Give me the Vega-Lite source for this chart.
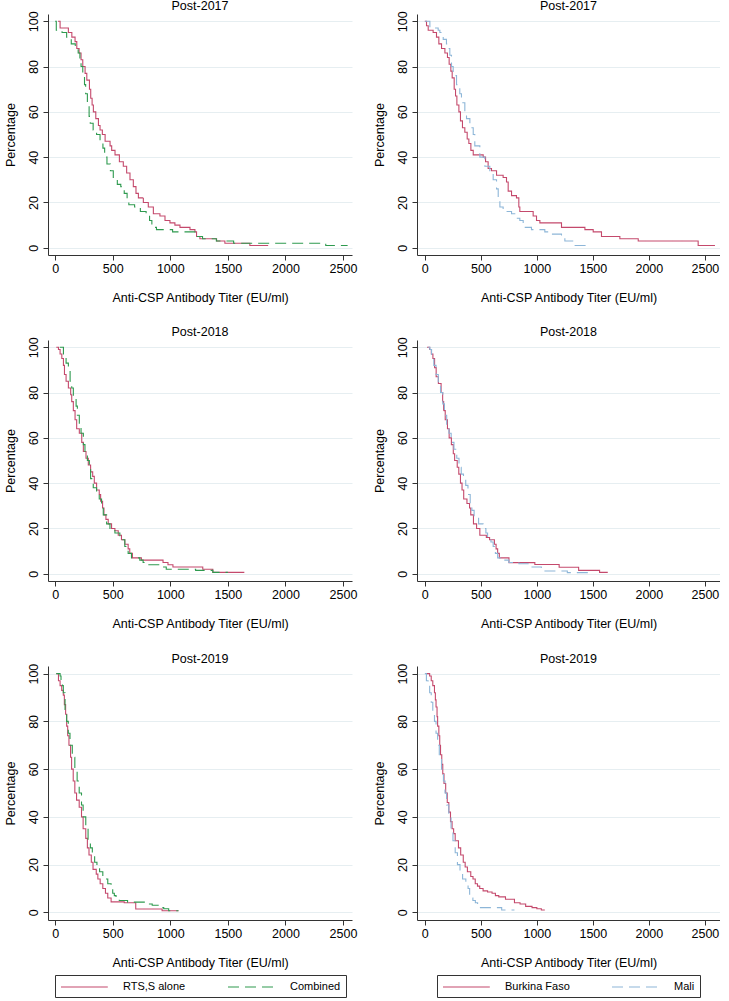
{
  "$schema": "https://vega.github.io/schema/vega-lite/v6.json",
  "padding": {"left": 4, "top": 0, "right": 0, "bottom": 0},
  "config": {
    "font": "Liberation Sans",
    "view": {"stroke": null},
    "axis": {"labelFontSize": 12.5, "titleFontSize": 12.5, "titleFontWeight": "normal", "labelColor": "#000", "titleColor": "#000", "domainColor": "#333", "tickColor": "#333", "tickSize": 5, "domainWidth": 1, "tickWidth": 1},
    "axisX": {"grid": false, "labelPadding": 2, "titlePadding": 17, "format": "d", "values": [0, 500, 1000, 1500, 2000, 2500]},
    "axisY": {"grid": true, "gridColor": "#e6eef1", "gridWidth": 1, "labelAngle": -90, "labelAlign": "center", "labelBaseline": "bottom", "labelPadding": 3, "titlePadding": 10, "values": [0, 20, 40, 60, 80, 100]},
    "title": {"fontSize": 12.5, "fontWeight": "normal", "offset": -2, "color": "#000", "anchor": "middle"},
    "line": {"interpolate": "step-after", "strokeWidth": 1.1},
    "legend": {"symbolType": "M-1,0H6.8", "symbolSize": 144, "symbolStrokeWidth": 1.2, "labelFontSize": 11, "labelColor": "#000", "strokeColor": "#333", "padding": 5, "columnPadding": 39, "labelOffset": 49, "offset": 6, "layout": {"bottom": {"anchor": "middle"}}}
  },
  "datasets": {
    "L17": [
      {"group": "RTS,S alone", "titer": 25, "pct": 100}, {"group": "RTS,S alone", "titer": 43, "pct": 97}, {"group": "RTS,S alone", "titer": 115, "pct": 95}, {"group": "RTS,S alone", "titer": 145, "pct": 93}, {"group": "RTS,S alone", "titer": 173, "pct": 91}, {"group": "RTS,S alone", "titer": 188, "pct": 88}, {"group": "RTS,S alone", "titer": 208, "pct": 86}, {"group": "RTS,S alone", "titer": 225, "pct": 83}, {"group": "RTS,S alone", "titer": 240, "pct": 80}, {"group": "RTS,S alone", "titer": 260, "pct": 77}, {"group": "RTS,S alone", "titer": 275, "pct": 74}, {"group": "RTS,S alone", "titer": 298, "pct": 70}, {"group": "RTS,S alone", "titer": 309, "pct": 66}, {"group": "RTS,S alone", "titer": 321, "pct": 63}, {"group": "RTS,S alone", "titer": 332, "pct": 60}, {"group": "RTS,S alone", "titer": 353, "pct": 57}, {"group": "RTS,S alone", "titer": 376, "pct": 54}, {"group": "RTS,S alone", "titer": 390, "pct": 52}, {"group": "RTS,S alone", "titer": 410, "pct": 50}, {"group": "RTS,S alone", "titer": 434, "pct": 47}, {"group": "RTS,S alone", "titer": 477, "pct": 45}, {"group": "RTS,S alone", "titer": 491, "pct": 43}, {"group": "RTS,S alone", "titer": 520, "pct": 41}, {"group": "RTS,S alone", "titer": 558, "pct": 38}, {"group": "RTS,S alone", "titer": 592, "pct": 36}, {"group": "RTS,S alone", "titer": 621, "pct": 33}, {"group": "RTS,S alone", "titer": 650, "pct": 30}, {"group": "RTS,S alone", "titer": 679, "pct": 27}, {"group": "RTS,S alone", "titer": 702, "pct": 24}, {"group": "RTS,S alone", "titer": 723, "pct": 22}, {"group": "RTS,S alone", "titer": 766, "pct": 20}, {"group": "RTS,S alone", "titer": 809, "pct": 18}, {"group": "RTS,S alone", "titer": 853, "pct": 15}, {"group": "RTS,S alone", "titer": 910, "pct": 14}, {"group": "RTS,S alone", "titer": 954, "pct": 12}, {"group": "RTS,S alone", "titer": 997, "pct": 11}, {"group": "RTS,S alone", "titer": 1040, "pct": 10}, {"group": "RTS,S alone", "titer": 1084, "pct": 9}, {"group": "RTS,S alone", "titer": 1171, "pct": 8}, {"group": "RTS,S alone", "titer": 1214, "pct": 7}, {"group": "RTS,S alone", "titer": 1228, "pct": 5}, {"group": "RTS,S alone", "titer": 1257, "pct": 4}, {"group": "RTS,S alone", "titer": 1402, "pct": 3}, {"group": "RTS,S alone", "titer": 1474, "pct": 2}, {"group": "RTS,S alone", "titer": 1691, "pct": 1}, {"group": "RTS,S alone", "titer": 1850, "pct": 1},
      {"group": "Combined", "titer": 0, "pct": 100}, {"group": "Combined", "titer": 10, "pct": 96}, {"group": "Combined", "titer": 60, "pct": 95}, {"group": "Combined", "titer": 100, "pct": 93}, {"group": "Combined", "titer": 140, "pct": 90}, {"group": "Combined", "titer": 175, "pct": 88}, {"group": "Combined", "titer": 200, "pct": 86}, {"group": "Combined", "titer": 215, "pct": 83}, {"group": "Combined", "titer": 225, "pct": 80}, {"group": "Combined", "titer": 240, "pct": 76}, {"group": "Combined", "titer": 255, "pct": 72}, {"group": "Combined", "titer": 265, "pct": 68}, {"group": "Combined", "titer": 280, "pct": 63}, {"group": "Combined", "titer": 295, "pct": 58}, {"group": "Combined", "titer": 305, "pct": 55}, {"group": "Combined", "titer": 330, "pct": 52}, {"group": "Combined", "titer": 360, "pct": 50}, {"group": "Combined", "titer": 390, "pct": 47}, {"group": "Combined", "titer": 415, "pct": 44}, {"group": "Combined", "titer": 430, "pct": 40}, {"group": "Combined", "titer": 450, "pct": 37}, {"group": "Combined", "titer": 480, "pct": 34}, {"group": "Combined", "titer": 505, "pct": 30}, {"group": "Combined", "titer": 540, "pct": 28}, {"group": "Combined", "titer": 570, "pct": 27}, {"group": "Combined", "titer": 600, "pct": 24}, {"group": "Combined", "titer": 625, "pct": 21}, {"group": "Combined", "titer": 640, "pct": 19}, {"group": "Combined", "titer": 690, "pct": 18}, {"group": "Combined", "titer": 740, "pct": 16}, {"group": "Combined", "titer": 790, "pct": 15}, {"group": "Combined", "titer": 820, "pct": 12}, {"group": "Combined", "titer": 840, "pct": 10}, {"group": "Combined", "titer": 855, "pct": 9}, {"group": "Combined", "titer": 880, "pct": 8}, {"group": "Combined", "titer": 1020, "pct": 7}, {"group": "Combined", "titer": 1230, "pct": 5}, {"group": "Combined", "titer": 1280, "pct": 4}, {"group": "Combined", "titer": 1400, "pct": 3}, {"group": "Combined", "titer": 1550, "pct": 2}, {"group": "Combined", "titer": 2350, "pct": 1}, {"group": "Combined", "titer": 2540, "pct": 1}
    ],
    "R17": [
      {"group": "Burkina Faso", "titer": 0, "pct": 100}, {"group": "Burkina Faso", "titer": 15, "pct": 98}, {"group": "Burkina Faso", "titer": 30, "pct": 96}, {"group": "Burkina Faso", "titer": 74, "pct": 95}, {"group": "Burkina Faso", "titer": 104, "pct": 93}, {"group": "Burkina Faso", "titer": 125, "pct": 90}, {"group": "Burkina Faso", "titer": 149, "pct": 88}, {"group": "Burkina Faso", "titer": 179, "pct": 86}, {"group": "Burkina Faso", "titer": 202, "pct": 84}, {"group": "Burkina Faso", "titer": 217, "pct": 81}, {"group": "Burkina Faso", "titer": 232, "pct": 78}, {"group": "Burkina Faso", "titer": 244, "pct": 75}, {"group": "Burkina Faso", "titer": 262, "pct": 70}, {"group": "Burkina Faso", "titer": 274, "pct": 67}, {"group": "Burkina Faso", "titer": 286, "pct": 63}, {"group": "Burkina Faso", "titer": 304, "pct": 60}, {"group": "Burkina Faso", "titer": 318, "pct": 56}, {"group": "Burkina Faso", "titer": 336, "pct": 53}, {"group": "Burkina Faso", "titer": 357, "pct": 51}, {"group": "Burkina Faso", "titer": 378, "pct": 48}, {"group": "Burkina Faso", "titer": 393, "pct": 46}, {"group": "Burkina Faso", "titer": 411, "pct": 43}, {"group": "Burkina Faso", "titer": 432, "pct": 41}, {"group": "Burkina Faso", "titer": 521, "pct": 40}, {"group": "Burkina Faso", "titer": 542, "pct": 38}, {"group": "Burkina Faso", "titer": 565, "pct": 35}, {"group": "Burkina Faso", "titer": 595, "pct": 34}, {"group": "Burkina Faso", "titer": 640, "pct": 32}, {"group": "Burkina Faso", "titer": 699, "pct": 31}, {"group": "Burkina Faso", "titer": 729, "pct": 29}, {"group": "Burkina Faso", "titer": 744, "pct": 25}, {"group": "Burkina Faso", "titer": 774, "pct": 23}, {"group": "Burkina Faso", "titer": 818, "pct": 22}, {"group": "Burkina Faso", "titer": 839, "pct": 18}, {"group": "Burkina Faso", "titer": 848, "pct": 16}, {"group": "Burkina Faso", "titer": 967, "pct": 14}, {"group": "Burkina Faso", "titer": 997, "pct": 12}, {"group": "Burkina Faso", "titer": 1027, "pct": 11}, {"group": "Burkina Faso", "titer": 1220, "pct": 9}, {"group": "Burkina Faso", "titer": 1429, "pct": 8}, {"group": "Burkina Faso", "titer": 1503, "pct": 7}, {"group": "Burkina Faso", "titer": 1577, "pct": 5}, {"group": "Burkina Faso", "titer": 1741, "pct": 4}, {"group": "Burkina Faso", "titer": 1905, "pct": 3}, {"group": "Burkina Faso", "titer": 2440, "pct": 1}, {"group": "Burkina Faso", "titer": 2590, "pct": 1},
      {"group": "Mali", "titer": 0, "pct": 100}, {"group": "Mali", "titer": 45, "pct": 97}, {"group": "Mali", "titer": 119, "pct": 96}, {"group": "Mali", "titer": 134, "pct": 95}, {"group": "Mali", "titer": 164, "pct": 92}, {"group": "Mali", "titer": 193, "pct": 90}, {"group": "Mali", "titer": 208, "pct": 88}, {"group": "Mali", "titer": 223, "pct": 85}, {"group": "Mali", "titer": 238, "pct": 80}, {"group": "Mali", "titer": 253, "pct": 76}, {"group": "Mali", "titer": 283, "pct": 72}, {"group": "Mali", "titer": 312, "pct": 68}, {"group": "Mali", "titer": 327, "pct": 64}, {"group": "Mali", "titer": 357, "pct": 60}, {"group": "Mali", "titer": 372, "pct": 57}, {"group": "Mali", "titer": 402, "pct": 53}, {"group": "Mali", "titer": 432, "pct": 50}, {"group": "Mali", "titer": 446, "pct": 45}, {"group": "Mali", "titer": 491, "pct": 40}, {"group": "Mali", "titer": 536, "pct": 36}, {"group": "Mali", "titer": 580, "pct": 33}, {"group": "Mali", "titer": 610, "pct": 30}, {"group": "Mali", "titer": 640, "pct": 26}, {"group": "Mali", "titer": 655, "pct": 22}, {"group": "Mali", "titer": 670, "pct": 18}, {"group": "Mali", "titer": 699, "pct": 16}, {"group": "Mali", "titer": 774, "pct": 15}, {"group": "Mali", "titer": 818, "pct": 13}, {"group": "Mali", "titer": 848, "pct": 12}, {"group": "Mali", "titer": 878, "pct": 9}, {"group": "Mali", "titer": 952, "pct": 8}, {"group": "Mali", "titer": 1071, "pct": 7}, {"group": "Mali", "titer": 1131, "pct": 6}, {"group": "Mali", "titer": 1220, "pct": 5}, {"group": "Mali", "titer": 1250, "pct": 3}, {"group": "Mali", "titer": 1320, "pct": 1}, {"group": "Mali", "titer": 1460, "pct": 1}
    ],
    "L18": [
      {"group": "RTS,S alone", "titer": 10, "pct": 100}, {"group": "RTS,S alone", "titer": 29, "pct": 99}, {"group": "RTS,S alone", "titer": 43, "pct": 97}, {"group": "RTS,S alone", "titer": 58, "pct": 95}, {"group": "RTS,S alone", "titer": 72, "pct": 92}, {"group": "RTS,S alone", "titer": 81, "pct": 88}, {"group": "RTS,S alone", "titer": 95, "pct": 85}, {"group": "RTS,S alone", "titer": 115, "pct": 82}, {"group": "RTS,S alone", "titer": 135, "pct": 79}, {"group": "RTS,S alone", "titer": 144, "pct": 76}, {"group": "RTS,S alone", "titer": 158, "pct": 72}, {"group": "RTS,S alone", "titer": 173, "pct": 68}, {"group": "RTS,S alone", "titer": 187, "pct": 64}, {"group": "RTS,S alone", "titer": 210, "pct": 62}, {"group": "RTS,S alone", "titer": 231, "pct": 58}, {"group": "RTS,S alone", "titer": 245, "pct": 54}, {"group": "RTS,S alone", "titer": 268, "pct": 51}, {"group": "RTS,S alone", "titer": 288, "pct": 48}, {"group": "RTS,S alone", "titer": 308, "pct": 45}, {"group": "RTS,S alone", "titer": 326, "pct": 43}, {"group": "RTS,S alone", "titer": 340, "pct": 40}, {"group": "RTS,S alone", "titer": 360, "pct": 37}, {"group": "RTS,S alone", "titer": 383, "pct": 35}, {"group": "RTS,S alone", "titer": 395, "pct": 32}, {"group": "RTS,S alone", "titer": 412, "pct": 29}, {"group": "RTS,S alone", "titer": 424, "pct": 26}, {"group": "RTS,S alone", "titer": 441, "pct": 24}, {"group": "RTS,S alone", "titer": 461, "pct": 22}, {"group": "RTS,S alone", "titer": 490, "pct": 20}, {"group": "RTS,S alone", "titer": 519, "pct": 19}, {"group": "RTS,S alone", "titer": 548, "pct": 17}, {"group": "RTS,S alone", "titer": 576, "pct": 15}, {"group": "RTS,S alone", "titer": 605, "pct": 13}, {"group": "RTS,S alone", "titer": 634, "pct": 11}, {"group": "RTS,S alone", "titer": 648, "pct": 9}, {"group": "RTS,S alone", "titer": 671, "pct": 7}, {"group": "RTS,S alone", "titer": 749, "pct": 6}, {"group": "RTS,S alone", "titer": 937, "pct": 5}, {"group": "RTS,S alone", "titer": 980, "pct": 4}, {"group": "RTS,S alone", "titer": 1023, "pct": 3}, {"group": "RTS,S alone", "titer": 1282, "pct": 2}, {"group": "RTS,S alone", "titer": 1369, "pct": 0.6}, {"group": "RTS,S alone", "titer": 1643, "pct": 0.6},
      {"group": "Combined", "titer": 40, "pct": 100}, {"group": "Combined", "titer": 72, "pct": 97}, {"group": "Combined", "titer": 95, "pct": 93}, {"group": "Combined", "titer": 115, "pct": 90}, {"group": "Combined", "titer": 130, "pct": 85}, {"group": "Combined", "titer": 144, "pct": 82}, {"group": "Combined", "titer": 158, "pct": 78}, {"group": "Combined", "titer": 182, "pct": 74}, {"group": "Combined", "titer": 193, "pct": 70}, {"group": "Combined", "titer": 210, "pct": 66}, {"group": "Combined", "titer": 225, "pct": 62}, {"group": "Combined", "titer": 245, "pct": 57}, {"group": "Combined", "titer": 259, "pct": 53}, {"group": "Combined", "titer": 280, "pct": 50}, {"group": "Combined", "titer": 297, "pct": 46}, {"group": "Combined", "titer": 308, "pct": 42}, {"group": "Combined", "titer": 331, "pct": 38}, {"group": "Combined", "titer": 360, "pct": 36}, {"group": "Combined", "titer": 383, "pct": 33}, {"group": "Combined", "titer": 403, "pct": 30}, {"group": "Combined", "titer": 418, "pct": 26}, {"group": "Combined", "titer": 447, "pct": 22}, {"group": "Combined", "titer": 476, "pct": 20}, {"group": "Combined", "titer": 519, "pct": 18}, {"group": "Combined", "titer": 562, "pct": 15}, {"group": "Combined", "titer": 605, "pct": 12}, {"group": "Combined", "titer": 634, "pct": 9}, {"group": "Combined", "titer": 663, "pct": 7}, {"group": "Combined", "titer": 735, "pct": 6}, {"group": "Combined", "titer": 764, "pct": 5}, {"group": "Combined", "titer": 792, "pct": 4}, {"group": "Combined", "titer": 908, "pct": 3}, {"group": "Combined", "titer": 965, "pct": 2}, {"group": "Combined", "titer": 1220, "pct": 1.5}, {"group": "Combined", "titer": 1370, "pct": 0.6}, {"group": "Combined", "titer": 1500, "pct": 0.6}
    ],
    "R18": [
      {"group": "Burkina Faso", "titer": 20, "pct": 100}, {"group": "Burkina Faso", "titer": 43, "pct": 99}, {"group": "Burkina Faso", "titer": 58, "pct": 97}, {"group": "Burkina Faso", "titer": 72, "pct": 95}, {"group": "Burkina Faso", "titer": 87, "pct": 91}, {"group": "Burkina Faso", "titer": 101, "pct": 87}, {"group": "Burkina Faso", "titer": 121, "pct": 84}, {"group": "Burkina Faso", "titer": 145, "pct": 80}, {"group": "Burkina Faso", "titer": 159, "pct": 76}, {"group": "Burkina Faso", "titer": 168, "pct": 72}, {"group": "Burkina Faso", "titer": 182, "pct": 68}, {"group": "Burkina Faso", "titer": 202, "pct": 64}, {"group": "Burkina Faso", "titer": 217, "pct": 60}, {"group": "Burkina Faso", "titer": 237, "pct": 57}, {"group": "Burkina Faso", "titer": 254, "pct": 53}, {"group": "Burkina Faso", "titer": 266, "pct": 50}, {"group": "Burkina Faso", "titer": 289, "pct": 47}, {"group": "Burkina Faso", "titer": 303, "pct": 44}, {"group": "Burkina Faso", "titer": 318, "pct": 40}, {"group": "Burkina Faso", "titer": 332, "pct": 37}, {"group": "Burkina Faso", "titer": 347, "pct": 33}, {"group": "Burkina Faso", "titer": 376, "pct": 31}, {"group": "Burkina Faso", "titer": 399, "pct": 29}, {"group": "Burkina Faso", "titer": 410, "pct": 26}, {"group": "Burkina Faso", "titer": 434, "pct": 22}, {"group": "Burkina Faso", "titer": 462, "pct": 20}, {"group": "Burkina Faso", "titer": 491, "pct": 17}, {"group": "Burkina Faso", "titer": 549, "pct": 16}, {"group": "Burkina Faso", "titer": 578, "pct": 15}, {"group": "Burkina Faso", "titer": 621, "pct": 13}, {"group": "Burkina Faso", "titer": 636, "pct": 11}, {"group": "Burkina Faso", "titer": 650, "pct": 9}, {"group": "Burkina Faso", "titer": 665, "pct": 7}, {"group": "Burkina Faso", "titer": 751, "pct": 4.9}, {"group": "Burkina Faso", "titer": 982, "pct": 4.1}, {"group": "Burkina Faso", "titer": 1199, "pct": 2.9}, {"group": "Burkina Faso", "titer": 1373, "pct": 1.5}, {"group": "Burkina Faso", "titer": 1560, "pct": 0.6}, {"group": "Burkina Faso", "titer": 1633, "pct": 0.6},
      {"group": "Mali", "titer": 30, "pct": 100}, {"group": "Mali", "titer": 45, "pct": 99}, {"group": "Mali", "titer": 60, "pct": 96}, {"group": "Mali", "titer": 80, "pct": 92}, {"group": "Mali", "titer": 100, "pct": 88}, {"group": "Mali", "titer": 120, "pct": 84}, {"group": "Mali", "titer": 140, "pct": 80}, {"group": "Mali", "titer": 160, "pct": 75}, {"group": "Mali", "titer": 175, "pct": 70}, {"group": "Mali", "titer": 195, "pct": 66}, {"group": "Mali", "titer": 215, "pct": 62}, {"group": "Mali", "titer": 235, "pct": 58}, {"group": "Mali", "titer": 260, "pct": 55}, {"group": "Mali", "titer": 285, "pct": 51}, {"group": "Mali", "titer": 305, "pct": 47}, {"group": "Mali", "titer": 325, "pct": 44}, {"group": "Mali", "titer": 345, "pct": 42}, {"group": "Mali", "titer": 365, "pct": 39}, {"group": "Mali", "titer": 385, "pct": 35}, {"group": "Mali", "titer": 405, "pct": 31}, {"group": "Mali", "titer": 420, "pct": 28}, {"group": "Mali", "titer": 440, "pct": 25}, {"group": "Mali", "titer": 480, "pct": 22}, {"group": "Mali", "titer": 520, "pct": 20}, {"group": "Mali", "titer": 545, "pct": 18}, {"group": "Mali", "titer": 560, "pct": 16}, {"group": "Mali", "titer": 590, "pct": 14}, {"group": "Mali", "titer": 610, "pct": 12}, {"group": "Mali", "titer": 630, "pct": 9}, {"group": "Mali", "titer": 650, "pct": 7}, {"group": "Mali", "titer": 700, "pct": 6}, {"group": "Mali", "titer": 750, "pct": 5}, {"group": "Mali", "titer": 840, "pct": 4.4}, {"group": "Mali", "titer": 940, "pct": 3}, {"group": "Mali", "titer": 1040, "pct": 1.2}, {"group": "Mali", "titer": 1272, "pct": 0.5}, {"group": "Mali", "titer": 1470, "pct": 0.5}
    ],
    "L19": [
      {"group": "RTS,S alone", "titer": 10, "pct": 100}, {"group": "RTS,S alone", "titer": 29, "pct": 97}, {"group": "RTS,S alone", "titer": 43, "pct": 95}, {"group": "RTS,S alone", "titer": 57, "pct": 93}, {"group": "RTS,S alone", "titer": 71, "pct": 91}, {"group": "RTS,S alone", "titer": 80, "pct": 87}, {"group": "RTS,S alone", "titer": 91, "pct": 83}, {"group": "RTS,S alone", "titer": 100, "pct": 78}, {"group": "RTS,S alone", "titer": 109, "pct": 74}, {"group": "RTS,S alone", "titer": 120, "pct": 70}, {"group": "RTS,S alone", "titer": 134, "pct": 65}, {"group": "RTS,S alone", "titer": 143, "pct": 60}, {"group": "RTS,S alone", "titer": 157, "pct": 55}, {"group": "RTS,S alone", "titer": 171, "pct": 50}, {"group": "RTS,S alone", "titer": 186, "pct": 47}, {"group": "RTS,S alone", "titer": 209, "pct": 44}, {"group": "RTS,S alone", "titer": 229, "pct": 40}, {"group": "RTS,S alone", "titer": 243, "pct": 35}, {"group": "RTS,S alone", "titer": 266, "pct": 31}, {"group": "RTS,S alone", "titer": 280, "pct": 27}, {"group": "RTS,S alone", "titer": 294, "pct": 24}, {"group": "RTS,S alone", "titer": 314, "pct": 21}, {"group": "RTS,S alone", "titer": 329, "pct": 18}, {"group": "RTS,S alone", "titer": 357, "pct": 16}, {"group": "RTS,S alone", "titer": 371, "pct": 14}, {"group": "RTS,S alone", "titer": 391, "pct": 12}, {"group": "RTS,S alone", "titer": 414, "pct": 10}, {"group": "RTS,S alone", "titer": 437, "pct": 8}, {"group": "RTS,S alone", "titer": 457, "pct": 6}, {"group": "RTS,S alone", "titer": 486, "pct": 4.4}, {"group": "RTS,S alone", "titer": 600, "pct": 4}, {"group": "RTS,S alone", "titer": 700, "pct": 1.4}, {"group": "RTS,S alone", "titer": 929, "pct": 0.7}, {"group": "RTS,S alone", "titer": 1071, "pct": 0.7},
      {"group": "Combined", "titer": 10, "pct": 100}, {"group": "Combined", "titer": 43, "pct": 99}, {"group": "Combined", "titer": 51, "pct": 97}, {"group": "Combined", "titer": 63, "pct": 95}, {"group": "Combined", "titer": 71, "pct": 92}, {"group": "Combined", "titer": 86, "pct": 85}, {"group": "Combined", "titer": 100, "pct": 80}, {"group": "Combined", "titer": 114, "pct": 75}, {"group": "Combined", "titer": 129, "pct": 70}, {"group": "Combined", "titer": 149, "pct": 65}, {"group": "Combined", "titer": 171, "pct": 60}, {"group": "Combined", "titer": 191, "pct": 55}, {"group": "Combined", "titer": 209, "pct": 50}, {"group": "Combined", "titer": 229, "pct": 45}, {"group": "Combined", "titer": 243, "pct": 40}, {"group": "Combined", "titer": 266, "pct": 35}, {"group": "Combined", "titer": 286, "pct": 30}, {"group": "Combined", "titer": 306, "pct": 27}, {"group": "Combined", "titer": 323, "pct": 24}, {"group": "Combined", "titer": 343, "pct": 21}, {"group": "Combined", "titer": 363, "pct": 19}, {"group": "Combined", "titer": 386, "pct": 17}, {"group": "Combined", "titer": 414, "pct": 14}, {"group": "Combined", "titer": 457, "pct": 12}, {"group": "Combined", "titer": 486, "pct": 11}, {"group": "Combined", "titer": 500, "pct": 8}, {"group": "Combined", "titer": 514, "pct": 7}, {"group": "Combined", "titer": 529, "pct": 6}, {"group": "Combined", "titer": 557, "pct": 5}, {"group": "Combined", "titer": 629, "pct": 4.3}, {"group": "Combined", "titer": 786, "pct": 3.5}, {"group": "Combined", "titer": 843, "pct": 3}, {"group": "Combined", "titer": 900, "pct": 2}, {"group": "Combined", "titer": 943, "pct": 1.5}, {"group": "Combined", "titer": 986, "pct": 0.7}, {"group": "Combined", "titer": 1071, "pct": 0.7}
    ],
    "R19": [
      {"group": "Burkina Faso", "titer": 10, "pct": 100}, {"group": "Burkina Faso", "titer": 43, "pct": 99}, {"group": "Burkina Faso", "titer": 57, "pct": 97}, {"group": "Burkina Faso", "titer": 71, "pct": 95}, {"group": "Burkina Faso", "titer": 86, "pct": 92}, {"group": "Burkina Faso", "titer": 94, "pct": 89}, {"group": "Burkina Faso", "titer": 100, "pct": 86}, {"group": "Burkina Faso", "titer": 109, "pct": 82}, {"group": "Burkina Faso", "titer": 114, "pct": 78}, {"group": "Burkina Faso", "titer": 125, "pct": 74}, {"group": "Burkina Faso", "titer": 133, "pct": 70}, {"group": "Burkina Faso", "titer": 140, "pct": 66}, {"group": "Burkina Faso", "titer": 151, "pct": 62}, {"group": "Burkina Faso", "titer": 160, "pct": 58}, {"group": "Burkina Faso", "titer": 171, "pct": 54}, {"group": "Burkina Faso", "titer": 186, "pct": 50}, {"group": "Burkina Faso", "titer": 200, "pct": 46}, {"group": "Burkina Faso", "titer": 214, "pct": 42}, {"group": "Burkina Faso", "titer": 229, "pct": 38}, {"group": "Burkina Faso", "titer": 243, "pct": 35}, {"group": "Burkina Faso", "titer": 257, "pct": 33}, {"group": "Burkina Faso", "titer": 271, "pct": 30}, {"group": "Burkina Faso", "titer": 300, "pct": 27}, {"group": "Burkina Faso", "titer": 320, "pct": 24}, {"group": "Burkina Faso", "titer": 343, "pct": 21}, {"group": "Burkina Faso", "titer": 360, "pct": 19}, {"group": "Burkina Faso", "titer": 380, "pct": 17}, {"group": "Burkina Faso", "titer": 410, "pct": 15}, {"group": "Burkina Faso", "titer": 430, "pct": 14}, {"group": "Burkina Faso", "titer": 450, "pct": 12}, {"group": "Burkina Faso", "titer": 470, "pct": 11}, {"group": "Burkina Faso", "titer": 490, "pct": 10}, {"group": "Burkina Faso", "titer": 520, "pct": 9}, {"group": "Burkina Faso", "titer": 560, "pct": 8.5}, {"group": "Burkina Faso", "titer": 600, "pct": 8}, {"group": "Burkina Faso", "titer": 630, "pct": 7}, {"group": "Burkina Faso", "titer": 660, "pct": 6.5}, {"group": "Burkina Faso", "titer": 720, "pct": 5.5}, {"group": "Burkina Faso", "titer": 800, "pct": 4}, {"group": "Burkina Faso", "titer": 850, "pct": 3.5}, {"group": "Burkina Faso", "titer": 900, "pct": 2.5}, {"group": "Burkina Faso", "titer": 957, "pct": 2}, {"group": "Burkina Faso", "titer": 1000, "pct": 1.5}, {"group": "Burkina Faso", "titer": 1040, "pct": 1}, {"group": "Burkina Faso", "titer": 1071, "pct": 1},
      {"group": "Mali", "titer": 0, "pct": 100}, {"group": "Mali", "titer": 14, "pct": 97}, {"group": "Mali", "titer": 29, "pct": 95}, {"group": "Mali", "titer": 43, "pct": 92}, {"group": "Mali", "titer": 57, "pct": 88}, {"group": "Mali", "titer": 71, "pct": 84}, {"group": "Mali", "titer": 86, "pct": 80}, {"group": "Mali", "titer": 100, "pct": 75}, {"group": "Mali", "titer": 114, "pct": 70}, {"group": "Mali", "titer": 129, "pct": 65}, {"group": "Mali", "titer": 149, "pct": 60}, {"group": "Mali", "titer": 166, "pct": 55}, {"group": "Mali", "titer": 180, "pct": 50}, {"group": "Mali", "titer": 194, "pct": 45}, {"group": "Mali", "titer": 214, "pct": 40}, {"group": "Mali", "titer": 234, "pct": 35}, {"group": "Mali", "titer": 251, "pct": 30}, {"group": "Mali", "titer": 271, "pct": 25}, {"group": "Mali", "titer": 291, "pct": 20}, {"group": "Mali", "titer": 314, "pct": 17}, {"group": "Mali", "titer": 337, "pct": 14}, {"group": "Mali", "titer": 366, "pct": 12}, {"group": "Mali", "titer": 386, "pct": 10}, {"group": "Mali", "titer": 400, "pct": 7}, {"group": "Mali", "titer": 414, "pct": 6}, {"group": "Mali", "titer": 429, "pct": 5}, {"group": "Mali", "titer": 451, "pct": 4}, {"group": "Mali", "titer": 471, "pct": 2.5}, {"group": "Mali", "titer": 486, "pct": 2}, {"group": "Mali", "titer": 686, "pct": 1}, {"group": "Mali", "titer": 800, "pct": 1}
    ]
  },
  "spacing": 22,
  "resolve": {"scale": {"color": "independent", "strokeDash": "independent"}},
  "vconcat": [
    {
      "spacing": 16,
      "resolve": {"scale": {"color": "independent", "strokeDash": "independent"}},
      "hconcat": [
        {
          "title": "Post-2017", "width": 304, "height": 241, "data": {"name": "L17"},
          "mark": "line",
          "encoding": {
            "x": {"field": "titer", "type": "quantitative", "title": "Anti-CSP Antibody Titer (EU/ml)", "scale": {"domain": [-62, 2578], "nice": false, "zero": false}},
            "y": {"field": "pct", "type": "quantitative", "title": "Percentage", "scale": {"domain": [-3.2, 103.2], "nice": false, "zero": false}},
            "color": {"field": "group", "type": "nominal", "scale": {"domain": ["RTS,S alone", "Combined"], "range": ["#c4496c", "#2e9a4f"]}, "legend": null},
            "strokeDash": {"field": "group", "type": "nominal", "scale": {"domain": ["RTS,S alone", "Combined"], "range": [[1, 0], [11, 6]]}, "legend": null}
          }
        },
        {
          "title": "Post-2017", "width": 303, "height": 241, "data": {"name": "R17"},
          "mark": "line",
          "encoding": {
            "x": {"field": "titer", "type": "quantitative", "title": "Anti-CSP Antibody Titer (EU/ml)", "scale": {"domain": [-70, 2635], "nice": false, "zero": false}},
            "y": {"field": "pct", "type": "quantitative", "title": "Percentage", "scale": {"domain": [-3.2, 103.2], "nice": false, "zero": false}},
            "color": {"field": "group", "type": "nominal", "scale": {"domain": ["Burkina Faso", "Mali"], "range": ["#c4496c", "#8db6d8"]}, "legend": null},
            "strokeDash": {"field": "group", "type": "nominal", "scale": {"domain": ["Burkina Faso", "Mali"], "range": [[1, 0], [11, 6]]}, "legend": null}
          }
        }
      ]
    },
    {
      "spacing": 16,
      "resolve": {"scale": {"color": "independent", "strokeDash": "independent"}},
      "hconcat": [
        {
          "title": "Post-2018", "width": 304, "height": 241, "data": {"name": "L18"},
          "mark": "line",
          "encoding": {
            "x": {"field": "titer", "type": "quantitative", "title": "Anti-CSP Antibody Titer (EU/ml)", "scale": {"domain": [-62, 2578], "nice": false, "zero": false}},
            "y": {"field": "pct", "type": "quantitative", "title": "Percentage", "scale": {"domain": [-3.2, 103.2], "nice": false, "zero": false}},
            "color": {"field": "group", "type": "nominal", "scale": {"domain": ["RTS,S alone", "Combined"], "range": ["#c4496c", "#2e9a4f"]}, "legend": null},
            "strokeDash": {"field": "group", "type": "nominal", "scale": {"domain": ["RTS,S alone", "Combined"], "range": [[1, 0], [11, 6]]}, "legend": null}
          }
        },
        {
          "title": "Post-2018", "width": 303, "height": 241, "data": {"name": "R18"},
          "mark": "line",
          "encoding": {
            "x": {"field": "titer", "type": "quantitative", "title": "Anti-CSP Antibody Titer (EU/ml)", "scale": {"domain": [-70, 2635], "nice": false, "zero": false}},
            "y": {"field": "pct", "type": "quantitative", "title": "Percentage", "scale": {"domain": [-3.2, 103.2], "nice": false, "zero": false}},
            "color": {"field": "group", "type": "nominal", "scale": {"domain": ["Burkina Faso", "Mali"], "range": ["#c4496c", "#8db6d8"]}, "legend": null},
            "strokeDash": {"field": "group", "type": "nominal", "scale": {"domain": ["Burkina Faso", "Mali"], "range": [[1, 0], [11, 6]]}, "legend": null}
          }
        }
      ]
    },
    {
      "spacing": 16,
      "resolve": {"scale": {"color": "independent", "strokeDash": "independent"}},
      "hconcat": [
        {
          "title": "Post-2019", "width": 304, "height": 254, "data": {"name": "L19"},
          "mark": "line",
          "encoding": {
            "x": {"field": "titer", "type": "quantitative", "title": "Anti-CSP Antibody Titer (EU/ml)", "scale": {"domain": [-62, 2578], "nice": false, "zero": false}},
            "y": {"field": "pct", "type": "quantitative", "title": "Percentage", "scale": {"domain": [-3.2, 103.2], "nice": false, "zero": false}},
            "color": {"field": "group", "type": "nominal", "scale": {"domain": ["RTS,S alone", "Combined"], "range": ["#c4496c", "#2e9a4f"]}, "legend": {"orient": "bottom", "direction": "horizontal", "columns": 2, "title": null}},
            "strokeDash": {"field": "group", "type": "nominal", "scale": {"domain": ["RTS,S alone", "Combined"], "range": [[1, 0], [11, 6]]}, "legend": {"orient": "bottom", "direction": "horizontal", "columns": 2, "title": null}}
          }
        },
        {
          "title": "Post-2019", "width": 303, "height": 254, "data": {"name": "R19"},
          "mark": "line",
          "encoding": {
            "x": {"field": "titer", "type": "quantitative", "title": "Anti-CSP Antibody Titer (EU/ml)", "scale": {"domain": [-70, 2635], "nice": false, "zero": false}},
            "y": {"field": "pct", "type": "quantitative", "title": "Percentage", "scale": {"domain": [-3.2, 103.2], "nice": false, "zero": false}},
            "color": {"field": "group", "type": "nominal", "scale": {"domain": ["Burkina Faso", "Mali"], "range": ["#c4496c", "#8db6d8"]}, "legend": {"orient": "bottom", "direction": "horizontal", "columns": 2, "title": null}},
            "strokeDash": {"field": "group", "type": "nominal", "scale": {"domain": ["Burkina Faso", "Mali"], "range": [[1, 0], [11, 6]]}, "legend": {"orient": "bottom", "direction": "horizontal", "columns": 2, "title": null}}
          }
        }
      ]
    }
  ]
}
